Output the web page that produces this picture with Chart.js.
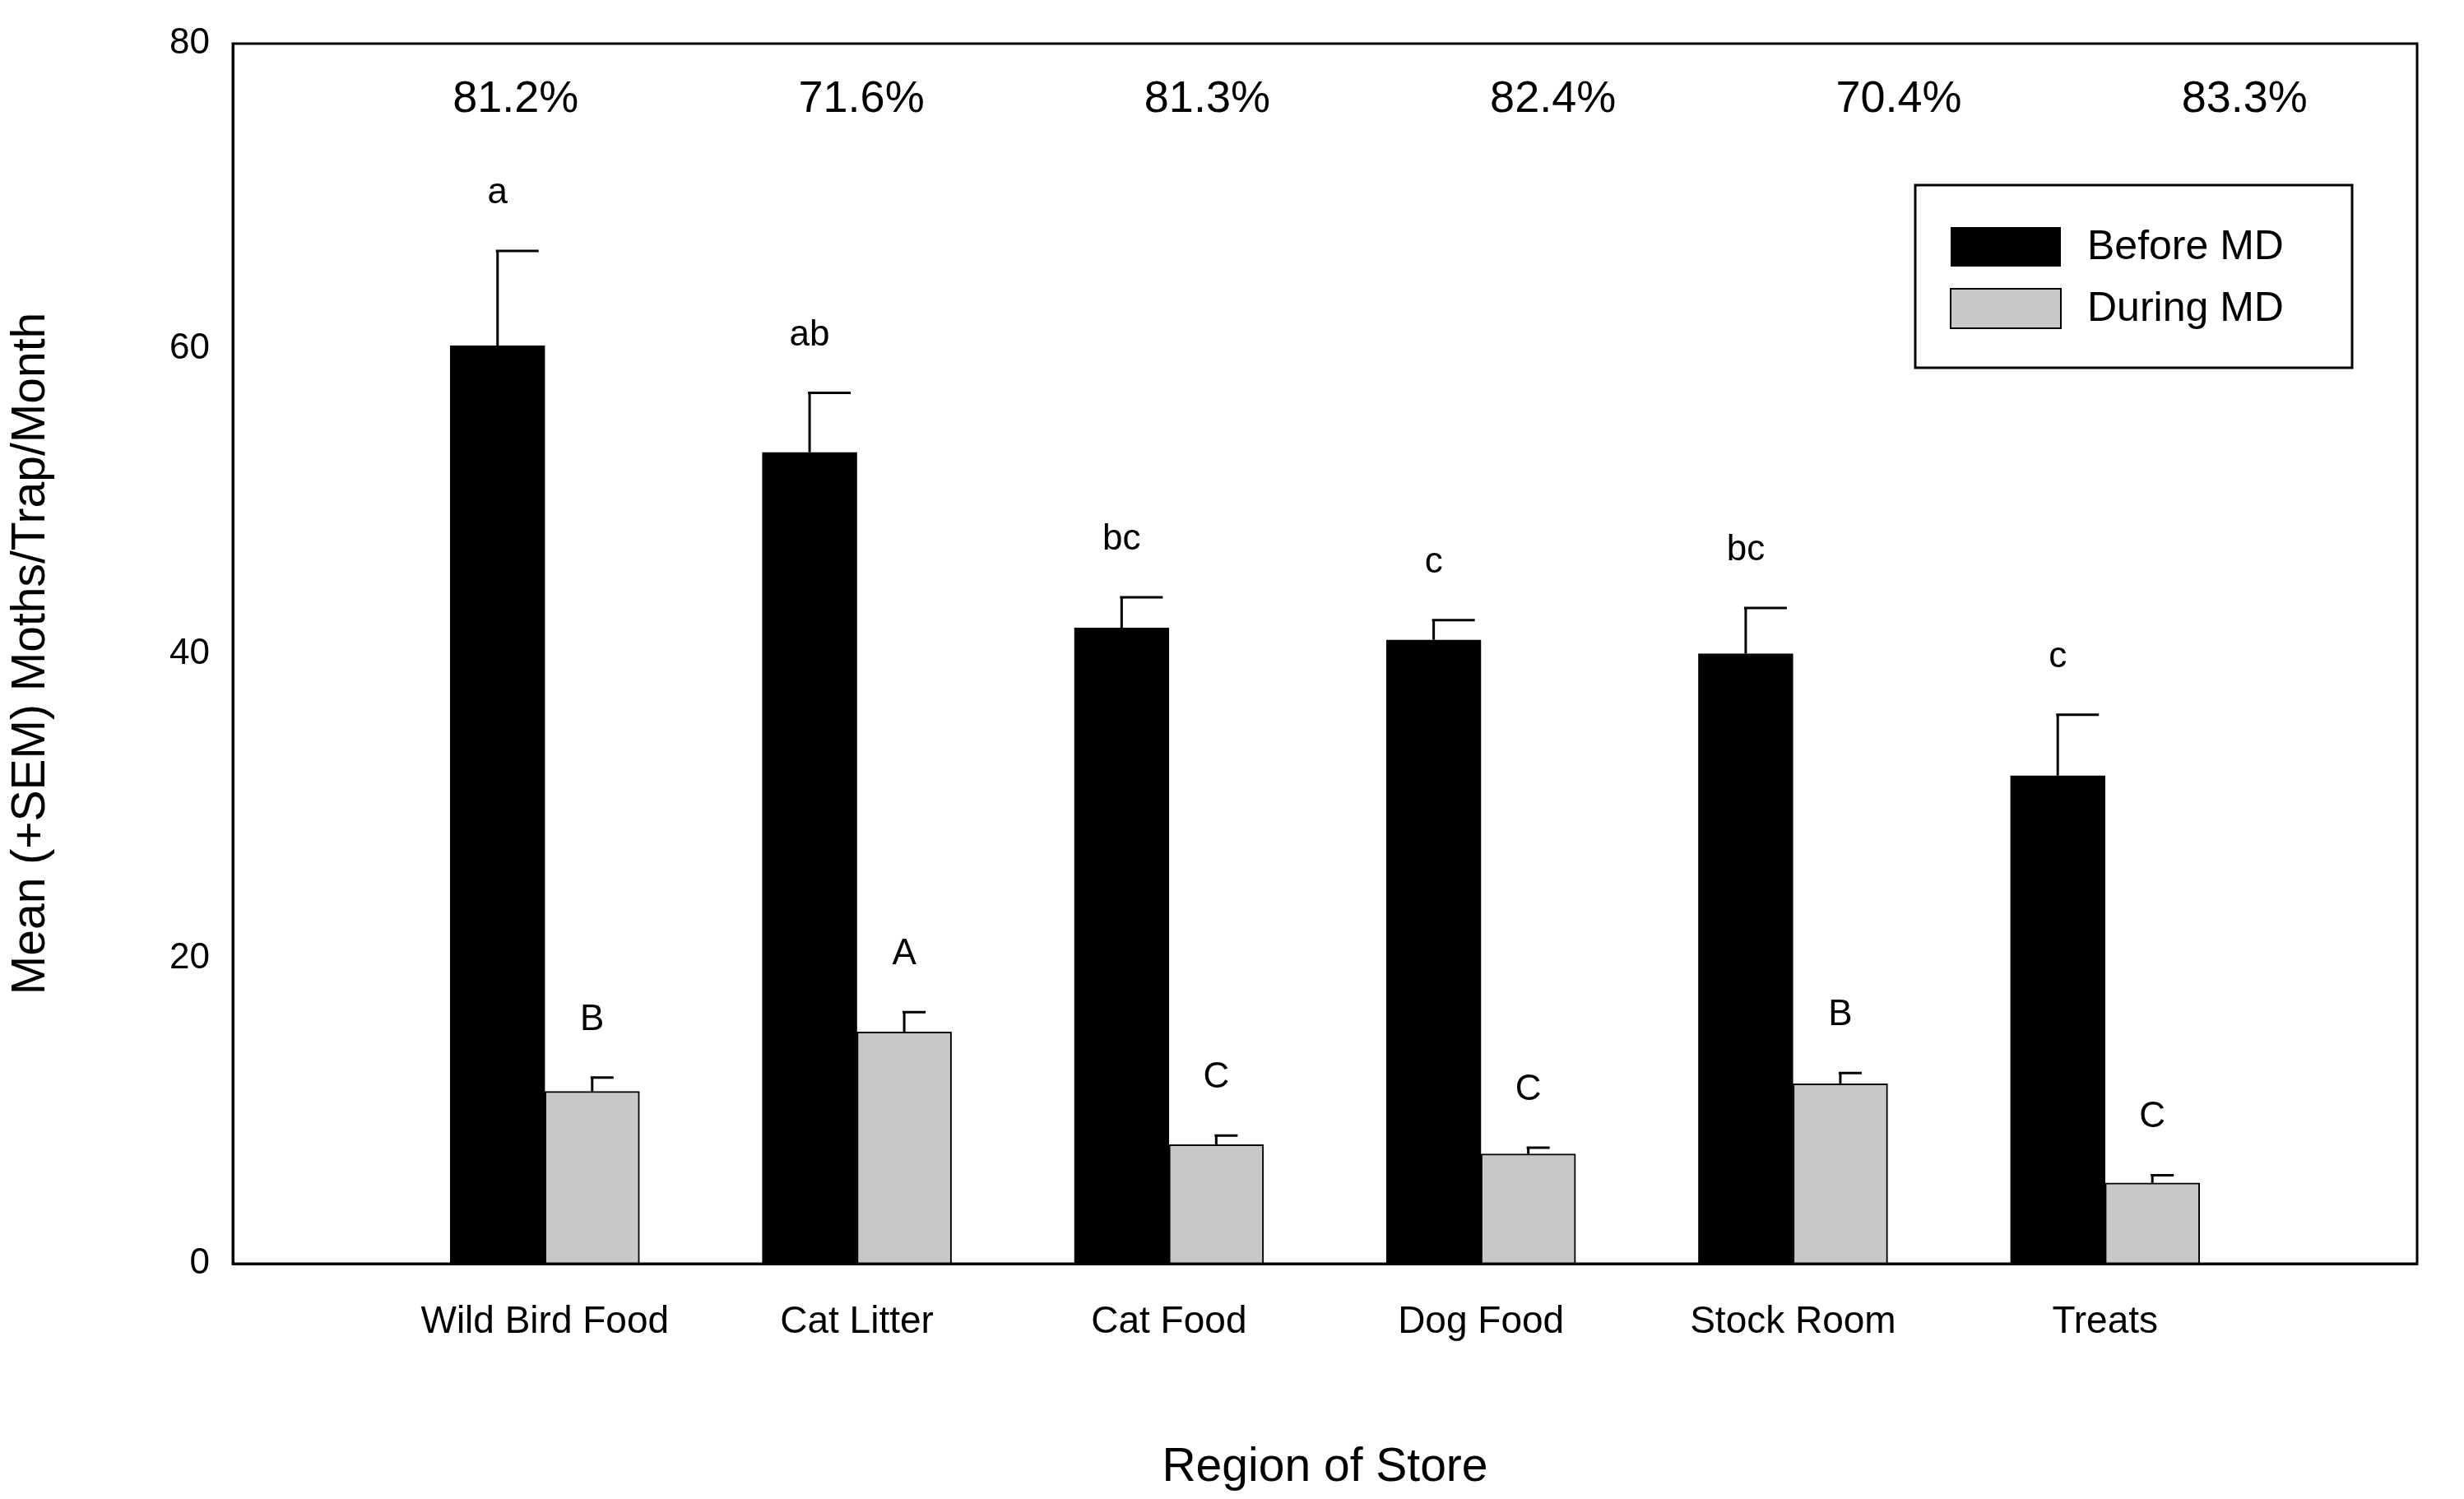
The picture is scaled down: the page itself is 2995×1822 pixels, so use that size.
<!DOCTYPE html>
<html><head><meta charset="utf-8">
<script src="https://cdn.jsdelivr.net/npm/chart.js@4/dist/chart.umd.min.js"></script>
<style>html,body{margin:0;padding:0;background:#fff}#w{width:2995px;height:1822px}</style>
</head><body><div id="w"><canvas id="c"></canvas></div>
<script>
const categories = ['', 'Wild Bird Food', 'Cat Litter', 'Cat Food', 'Dog Food', 'Stock Room', 'Treats', ''];
const beforeMD = [null, 60.2, 53.2, 41.7, 40.9, 40.0, 32.0, null];
const beforeErr = [null, 66.4, 57.1, 43.7, 42.2, 43.0, 36.0, null];
const duringMD = [null, 11.3, 15.2, 7.8, 7.2, 11.8, 5.3, null];
const duringErr = [null, 12.2, 16.5, 8.4, 7.6, 12.5, 5.8, null];
const beforeLetters = ['', 'a', 'ab', 'bc', 'c', 'bc', 'c', ''];
const duringLetters = ['', 'B', 'A', 'C', 'C', 'B', 'C', ''];
const reductions = ['81.2%', '71.6%', '81.3%', '82.4%', '70.4%', '83.3%'];
const yTicks = [0, 20, 40, 60, 80];
const F = 'Liberation Sans, Arial, sans-serif';

const overlay = {
  id: 'overlay',
  afterDatasetsDraw(chart) {
    const ctx = chart.ctx, y = chart.scales.y, a = chart.chartArea;
    ctx.save();
    ctx.strokeStyle = '#000'; ctx.lineWidth = 3;
    ctx.fillStyle = '#000';
    [[0, beforeErr, beforeLetters], [1, duringErr, duringLetters]].forEach(([di, errs, letters]) => {
      const meta = chart.getDatasetMeta(di);
      meta.data.forEach((bar, i) => {
        if (errs[i] == null) return;
        const yt = y.getPixelForValue(errs[i]);
        ctx.beginPath();
        ctx.moveTo(bar.x, bar.y); ctx.lineTo(bar.x, yt);
        ctx.moveTo(bar.x - 2, yt); ctx.lineTo(bar.x + (di === 0 ? 50 : 26), yt);
        ctx.stroke();
        ctx.font = '44px ' + F; ctx.textAlign = 'center'; ctx.textBaseline = 'alphabetic';
        ctx.fillText(letters[i], bar.x, yt - 58);
      });
    });
    // percentages
    ctx.font = '54px ' + F; ctx.textAlign = 'center'; ctx.textBaseline = 'middle';
    const w = a.right - a.left;
    reductions.forEach((t, i) => ctx.fillText(t, a.left + w * (0.1295 + 0.1583 * i), 121));
    // border box
    ctx.strokeRect(a.left, a.top, w, a.bottom - a.top);
    // legend
    const lx = 2328, ly = 225, lw = 531, lh = 222;
    ctx.lineWidth = 3; ctx.strokeRect(lx, ly, lw, lh);
    ctx.fillStyle = '#000'; ctx.fillRect(2371, 276, 134, 48);
    ctx.fillStyle = '#c8c8c8'; ctx.fillRect(2371, 351, 134, 48);
    ctx.lineWidth = 2; ctx.strokeRect(2371, 351, 134, 48);
    ctx.fillStyle = '#000'; ctx.font = '50px ' + F; ctx.textAlign = 'left';
    ctx.fillText('Before MD', 2537, 301);
    ctx.fillText('During MD', 2537, 376);
    ctx.restore();
  }
};

new Chart(document.getElementById('c'), {
  type: 'bar',
  data: {
    labels: categories,
    datasets: [
      { label: 'Before MD', data: beforeMD, backgroundColor: '#000', borderColor: '#000', borderWidth: 2, barThickness: 115 },
      { label: 'During MD', data: duringMD, backgroundColor: '#c8c8c8', borderColor: '#000', borderWidth: 2, barThickness: 115 }
    ]
  },
  options: {
    responsive: true, maintainAspectRatio: false, animation: false,
    devicePixelRatio: 1,
    layout: { padding: { left: 0, top: 53, right: 57, bottom: 0 } },
    plugins: { legend: { display: false }, tooltip: { enabled: false } },
    scales: {
      x: {
        offset: false,
        grid: { display: false, drawTicks: false },
        border: { color: '#000', width: 3 },
        ticks: { color: '#000', font: { size: 46, family: F }, padding: 44, maxRotation: 0, autoSkip: false },
        title: { display: true, text: 'Region of Store', color: '#000', font: { size: 57, family: F }, padding: { top: 50 } },
        afterFit(s) { s.height = 286; }
      },
      y: {
        min: 0, max: 80,
        afterBuildTicks(s) { s.ticks = yTicks.map(v => ({ value: v })); },
        grid: { display: false, drawOnChartArea: false, drawTicks: true, tickLength: 18, tickWidth: 3, tickColor: '#000' },
        border: { color: '#000', width: 3 },
        ticks: { color: '#000', font: { size: 44, family: F }, padding: 10 },
        title: { display: true, text: 'Mean (+SEM) Moths/Trap/Month', color: '#000', font: { size: 57, family: F }, padding: { bottom: 30 } },
        afterFit(s) { s.width = 283; }
      }
    }
  },
  plugins: [overlay]
});
</script></body></html>
